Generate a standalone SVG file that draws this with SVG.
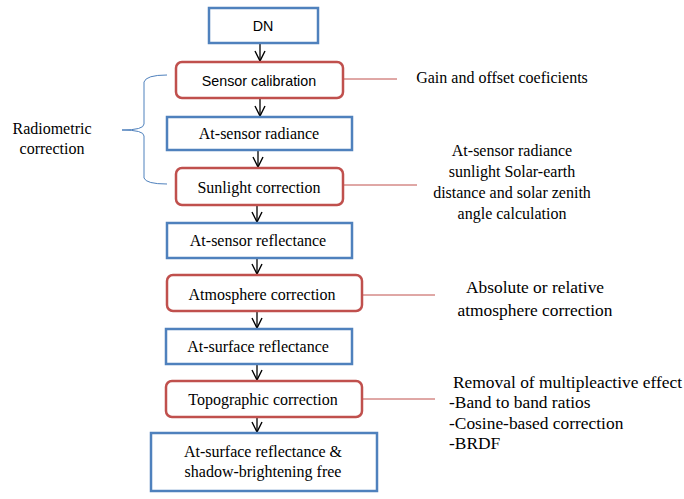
<svg xmlns="http://www.w3.org/2000/svg" width="684" height="499" viewBox="0 0 684 499">
<defs>
<style>
.b{fill:#fff;stroke:#4f81bd;stroke-width:2.5}
.r{fill:#fff;stroke:#c0504d;stroke-width:2.5}
.s{font-family:'Liberation Sans',Arial,sans-serif;font-size:14.3px;fill:#000;text-anchor:middle}
.t{font-family:'Liberation Serif','Times New Roman','DejaVu Serif',serif;font-size:16px;fill:#000;text-anchor:middle}
.t15{font-family:'Liberation Serif','Times New Roman','DejaVu Serif',serif;font-size:17.4px;fill:#000}
.rl{stroke:#c0504d;stroke-width:1;fill:none}
.ar{stroke:#000;stroke-width:1.3;fill:none}
</style>
<marker id="ah" viewBox="0 0 12 12" refX="11" refY="6" markerWidth="12" markerHeight="12" markerUnits="userSpaceOnUse" orient="auto">
<path d="M1,1 L11,6 L1,11" fill="none" stroke="#000" stroke-width="1.4"/>
</marker>
</defs>
<rect width="684" height="499" fill="#fff"/>
<g id="connectors">
<line class="ar" x1="260" y1="43" x2="260" y2="61" marker-end="url(#ah)"/>
<line class="ar" x1="260" y1="98" x2="260" y2="116" marker-end="url(#ah)"/>
<line class="ar" x1="258" y1="150" x2="258" y2="167" marker-end="url(#ah)"/>
<line class="ar" x1="257" y1="205" x2="257" y2="222" marker-end="url(#ah)"/>
<line class="ar" x1="257" y1="258" x2="257" y2="274" marker-end="url(#ah)"/>
<line class="ar" x1="257" y1="311" x2="257" y2="328" marker-end="url(#ah)"/>
<line class="ar" x1="257" y1="364" x2="257" y2="380" marker-end="url(#ah)"/>
<line class="ar" x1="257" y1="417" x2="257" y2="432" marker-end="url(#ah)"/>
<line class="rl" x1="343" y1="79" x2="397" y2="79"/>
<line class="rl" x1="343" y1="185" x2="417" y2="185"/>
<line class="rl" x1="362" y1="295" x2="435" y2="295"/>
<line class="rl" x1="362" y1="399" x2="435" y2="399"/>
<path d="M167,75 Q146,75 144,82 L144,124 Q144,130 122,130 Q144,130 144,136 L144,178 Q146,184 167,184" fill="none" stroke="#4f81bd" stroke-width="1"/>
</g>
<g id="dn"><rect class="b" x="209" y="8" width="109" height="35"/><text class="s" x="263" y="31">DN</text></g>
<g id="sensor-calibration"><rect class="r" x="176" y="62" width="167" height="36" rx="6"/><text class="s" x="259" y="86">Sensor calibration</text></g>
<g id="at-sensor-radiance"><rect class="b" x="167" y="117" width="185" height="33"/><text class="t" x="259" y="139">At-sensor radiance</text></g>
<g id="sunlight-correction"><rect class="r" x="176" y="168" width="167" height="37" rx="6"/><text class="t" x="259" y="193">Sunlight correction</text></g>
<g id="at-sensor-reflectance"><rect class="b" x="167" y="223" width="185" height="35"/><text class="t" x="258" y="246">At-sensor reflectance</text></g>
<g id="atmosphere-correction"><rect class="r" x="167" y="275" width="195" height="36" rx="6"/><text class="t" x="262" y="300">Atmosphere correction</text></g>
<g id="at-surface-reflectance"><rect class="b" x="166" y="329" width="186" height="35"/><text class="t" x="258" y="352">At-surface reflectance</text></g>
<g id="topographic-correction"><rect class="r" x="166" y="381" width="196" height="36" rx="6"/><text class="t" x="263" y="405">Topographic correction</text></g>
<g id="final"><rect class="b" x="151" y="433" width="226" height="58"/><text class="t" x="263" y="457">At-surface reflectance &amp;</text><text class="t" x="263" y="477">shadow-brightening free</text></g>
<g id="radiometric-label"><text class="t" x="52" y="134">Radiometric</text><text class="t" x="52" y="154">correction</text></g>
<g id="note-gain"><text class="t" x="502" y="83">Gain and offset coeficients</text></g>
<g id="note-sunlight"><text class="t" x="512" y="156">At-sensor radiance</text><text class="t" x="512" y="177">sunlight Solar-earth</text><text class="t" x="512" y="198">distance and solar zenith</text><text class="t" x="512" y="219">angle calculation</text></g>
<g id="note-atm"><text class="t15" x="535" y="293" text-anchor="middle">Absolute or relative</text><text class="t15" x="535" y="316" text-anchor="middle">atmosphere correction</text></g>
<g id="note-topo"><text class="t15" x="453" y="388">Removal of multipleactive effect</text><text class="t15" x="449" y="408">-Band to band ratios</text><text class="t15" x="449" y="429">-Cosine-based correction</text><text class="t15" x="449" y="449">-BRDF</text></g>
</svg>
